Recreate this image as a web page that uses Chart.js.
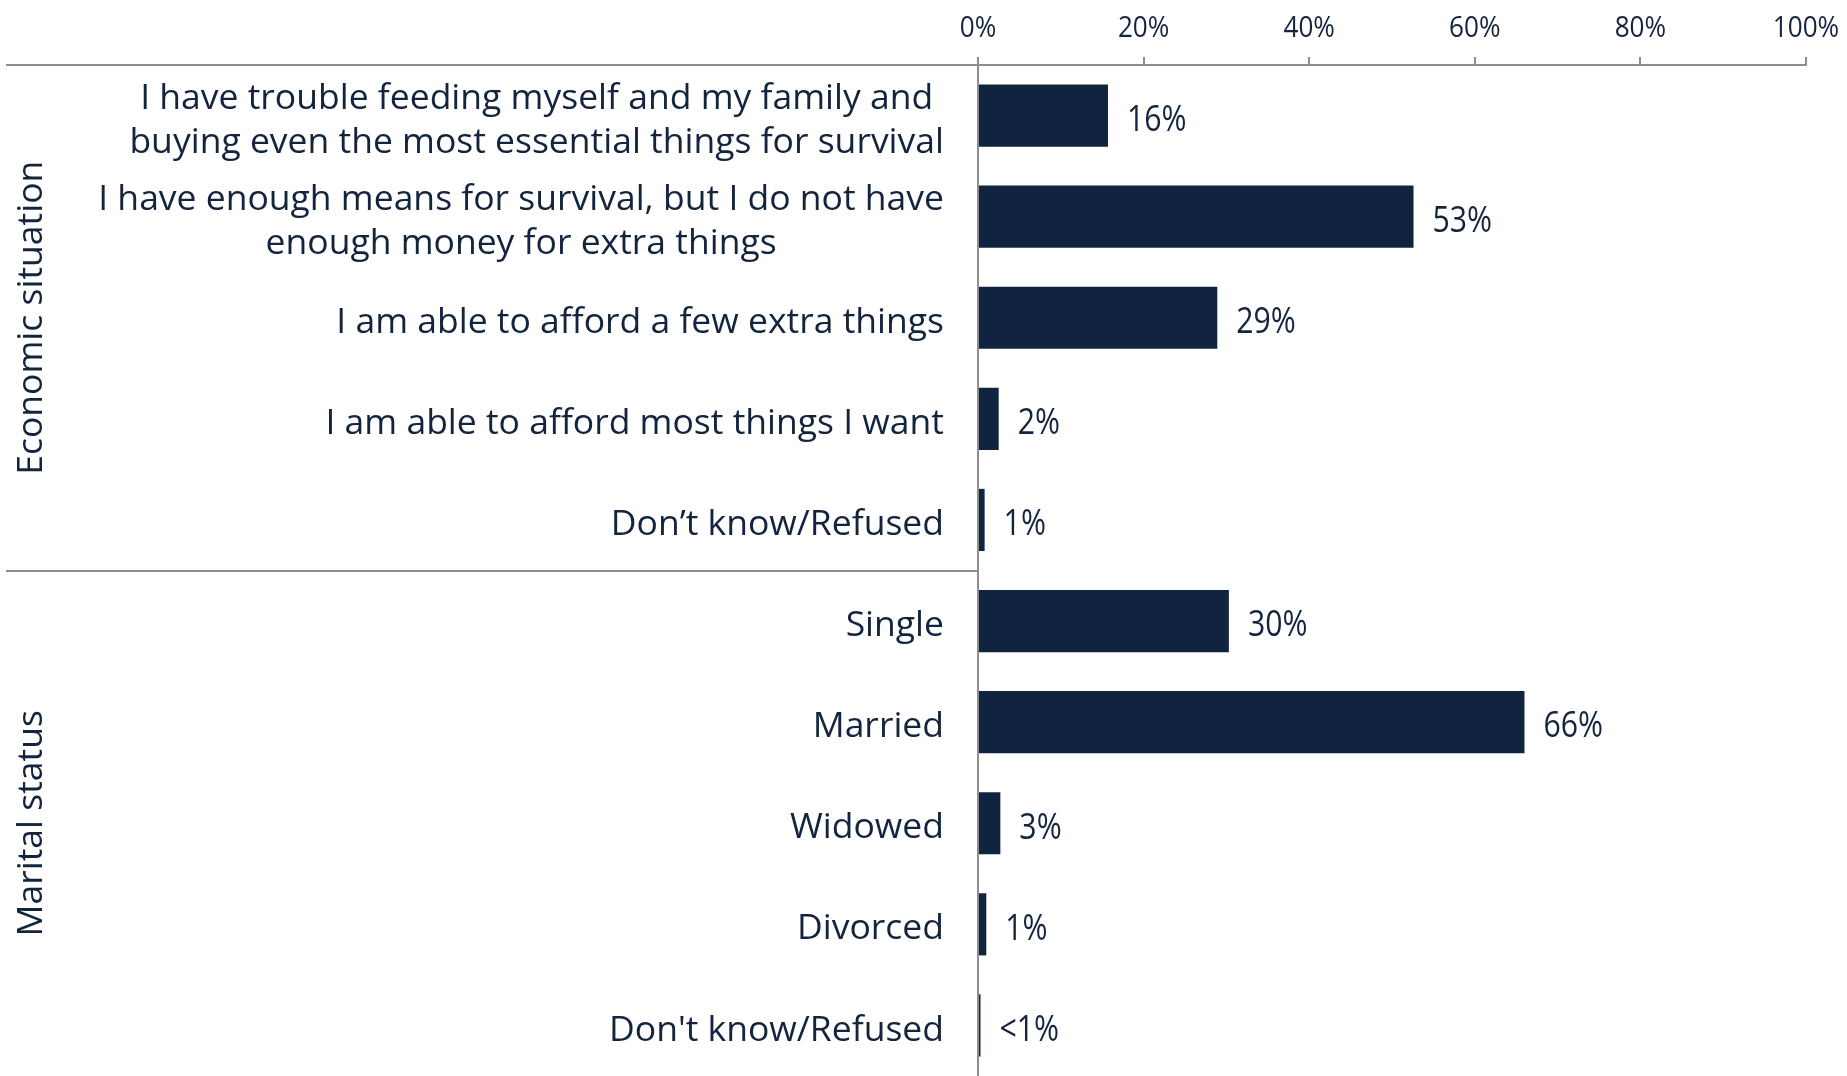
<!DOCTYPE html>
<html>
<head>
<meta charset="utf-8">
<script src="https://cdn.jsdelivr.net/npm/chart.js@4.4.1/dist/chart.umd.min.js"></script>
<style>
  html, body { margin: 0; background: #fff; }
  #box { width: 1847px; height: 1076px; position: relative; }
</style>
</head>
<body>
<div id="box"><canvas id="chart"></canvas></div>
<script>
const categories = [
  ["I have trouble feeding myself and my family and", "buying even the most essential things for survival"],
  ["I have enough means for survival, but I do not have", "enough money for extra things"],
  "I am able to afford a few extra things",
  "I am able to afford most things I want",
  "Don’t know/Refused",
  "Single",
  "Married",
  "Widowed",
  "Divorced",
  "Don't know/Refused"
];
const values = [15.7, 52.6, 28.9, 2.5, 0.8, 30.3, 66, 2.7, 1.0, 0.3];
const valueLabels = ["16%", "53%", "29%", "2%", "1%", "30%", "66%", "3%", "1%", "<1%"];
const groups = ["Economic situation", "Marital status"];
const groupSizes = [5, 5];
const xTicks = [0, 20, 40, 60, 80, 100];

const C = {
  bar: "#10243f",
  ink: "#13243e",
  line: "#8d8d92"
};
const FONT = '"Open Sans", sans-serif';

function drawScaled(ctx, text, x, y, sx, font, align) {
  ctx.save();
  ctx.translate(x, y);
  ctx.scale(sx, 1);
  ctx.font = font;
  ctx.textAlign = align;
  ctx.textBaseline = "middle";
  ctx.fillText(text, 0, 0);
  ctx.restore();
}

const decor = {
  id: "decor",
  afterDraw(chart) {
    const ctx = chart.ctx;
    const xs = chart.scales.x;
    const ys = chart.scales.y;
    const area = chart.chartArea;
    const step = ys.getPixelForTick(1) - ys.getPixelForTick(0);
    ctx.save();

    // top rule and group separators across the label column
    ctx.strokeStyle = C.line;
    ctx.lineWidth = 2;
    ctx.beginPath();
    ctx.moveTo(6, area.top);
    ctx.lineTo(area.left, area.top);
    let idx = 0;
    groupSizes.slice(0, -1).forEach(n => {
      idx += n;
      const sy = Math.round((ys.getPixelForTick(idx - 1) + ys.getPixelForTick(idx)) / 2);
      ctx.moveTo(6, sy);
      ctx.lineTo(area.left, sy);
    });
    ctx.stroke();

    ctx.fillStyle = C.ink;

    // x tick labels
    xs.ticks.forEach(t => {
      drawScaled(ctx, t.value + "%", xs.getPixelForValue(t.value), 29, 0.9, "29px " + FONT, "center");
    });

    // category labels (block right aligned, lines centred)
    ctx.font = "35.5px " + FONT;
    ctx.textBaseline = "middle";
    ctx.textAlign = "center";
    const right = area.left - 34;
    categories.forEach((lab, i) => {
      const lines = Array.isArray(lab) ? lab : [lab];
      const w = Math.max(...lines.map(l => ctx.measureText(l).width));
      const yc = ys.getPixelForTick(i) + 5;
      lines.forEach((l, j) => {
        ctx.fillText(l, right - w / 2, yc + (j - (lines.length - 1) / 2) * 44);
      });
    });

    // value labels
    values.forEach((v, i) => {
      drawScaled(ctx, valueLabels[i], xs.getPixelForValue(v) + 19, ys.getPixelForTick(i) + 5, 0.84, "36px " + FONT, "left");
    });

    // group titles
    let start = 0;
    groups.forEach((g, k) => {
      const end = start + groupSizes[k] - 1;
      const top = ys.getPixelForTick(start) - step / 2;
      const bot = ys.getPixelForTick(end) + step / 2;
      ctx.save();
      ctx.translate(32, (top + bot) / 2);
      ctx.rotate(-Math.PI / 2);
      ctx.font = "35.5px " + FONT;
      ctx.textAlign = "center";
      ctx.textBaseline = "middle";
      ctx.fillText(g, 0, 0);
      ctx.restore();
      start = end + 1;
    });

    ctx.restore();
  }
};

new Chart(document.getElementById("chart"), {
  type: "bar",
  data: {
    labels: categories,
    datasets: [{
      data: values,
      backgroundColor: C.bar,
      borderWidth: 0,
      barPercentage: 0.615,
      categoryPercentage: 1
    }]
  },
  options: {
    indexAxis: "y",
    responsive: true,
    maintainAspectRatio: false,
    animation: false,
    layout: { padding: { top: 0, right: 41, bottom: -3, left: 0 } },
    plugins: { legend: { display: false }, tooltip: { enabled: false } },
    scales: {
      x: {
        position: "top",
        min: 0,
        max: 100,
        afterBuildTicks: s => { s.ticks = xTicks.map(v => ({ value: v })); },
        ticks: { display: false },
        grid: { drawOnChartArea: false, drawTicks: true, tickLength: 8, color: C.line, lineWidth: 2 },
        border: { display: true, color: C.line, width: 2 },
        afterFit: s => { s.height = 65; }
      },
      y: {
        ticks: { display: false },
        grid: { display: false },
        border: { display: true, color: C.line, width: 2 },
        afterFit: s => { s.width = 978; }
      }
    }
  },
  plugins: [decor]
});
</script>
</body>
</html>
